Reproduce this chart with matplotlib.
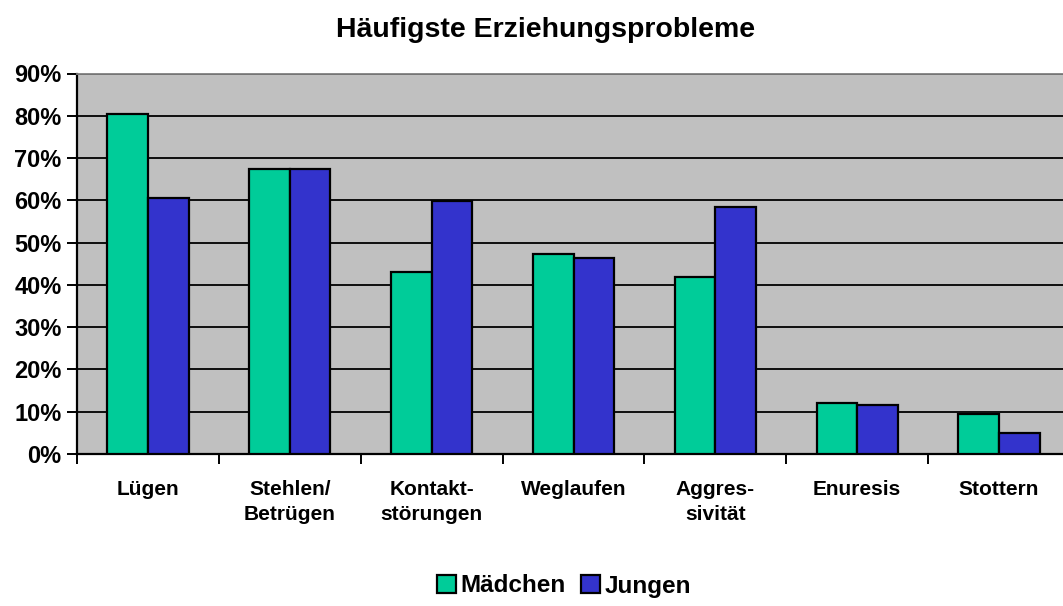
import numpy as np
import matplotlib
matplotlib.use('Agg')
import matplotlib.pyplot as plt

plt.rcParams['font.family'] = ['Liberation Sans', 'DejaVu Sans']
plt.rcParams['font.weight'] = 'bold'

# data
categories = ['Lügen', 'Stehlen/\nBetrügen', 'Kontakt-\nstörungen', 'Weglaufen',
              'Aggres-\nsivität', 'Enuresis', 'Stottern']
maedchen = [80.5, 67.5, 43.1, 47.4, 41.9, 12.0, 9.4]
jungen = [60.6, 67.5, 59.9, 46.3, 58.5, 11.7, 4.9]
yticks = [0, 10, 20, 30, 40, 50, 60, 70, 80, 90]

fig = plt.figure(figsize=(10.63, 6.06), dpi=100)
ax = fig.add_axes([77/1063, 1-454/606, (1070-77)/1063, (454-73.5)/606])
ax.set_facecolor('#C0C0C0')

x = np.arange(len(categories))
w = 0.287
ax.bar(x - w/2, maedchen, w, color='#00CC99', edgecolor='black', linewidth=1.6,
       label='Mädchen', zorder=3)
ax.bar(x + w/2, jungen, w, color='#3333CC', edgecolor='black', linewidth=1.6,
       label='Jungen', zorder=3)

ax.set_xlim(-0.5, len(categories) - 0.5)
ax.set_ylim(0, 90)
ax.set_yticks(yticks)
ax.set_yticklabels([f'{v}%' for v in yticks], fontsize=17, fontweight='bold')
ax.yaxis.grid(True, color='black', linewidth=1.3, zorder=1)
ax.set_axisbelow(True)

# category labels centred, ticks on boundaries
ax.set_xticks(x)
ax.set_xticklabels(categories, fontsize=15, fontweight='bold', linespacing=1.35)
ax.tick_params(axis='x', length=0, pad=19)
ax.set_xticks(np.arange(len(categories)) - 0.5, minor=True)
ax.tick_params(axis='x', which='minor', length=7, width=1.4, direction='out')
ax.tick_params(axis='y', length=7, width=1.4, direction='out', pad=4)

for s in ['left', 'bottom']:
    ax.spines[s].set_color('black')
    ax.spines[s].set_linewidth(1.6)
ax.spines['top'].set_color('#808080')
ax.spines['top'].set_linewidth(1.3)
ax.spines['right'].set_visible(False)

fig.text(546/1063, 1-30/606, 'Häufigste Erziehungsprobleme', ha='center', va='center',
         fontsize=20.5, fontweight='bold')

fig.legend(loc='center', bbox_to_anchor=(564/1063, 1-586/606), ncol=2, frameon=False,
           prop={'size': 17.5, 'weight': 'bold'}, handlelength=0.8, handleheight=0.8,
           handletextpad=0.2, columnspacing=0.6)

fig.savefig('out.png', dpi=100)
